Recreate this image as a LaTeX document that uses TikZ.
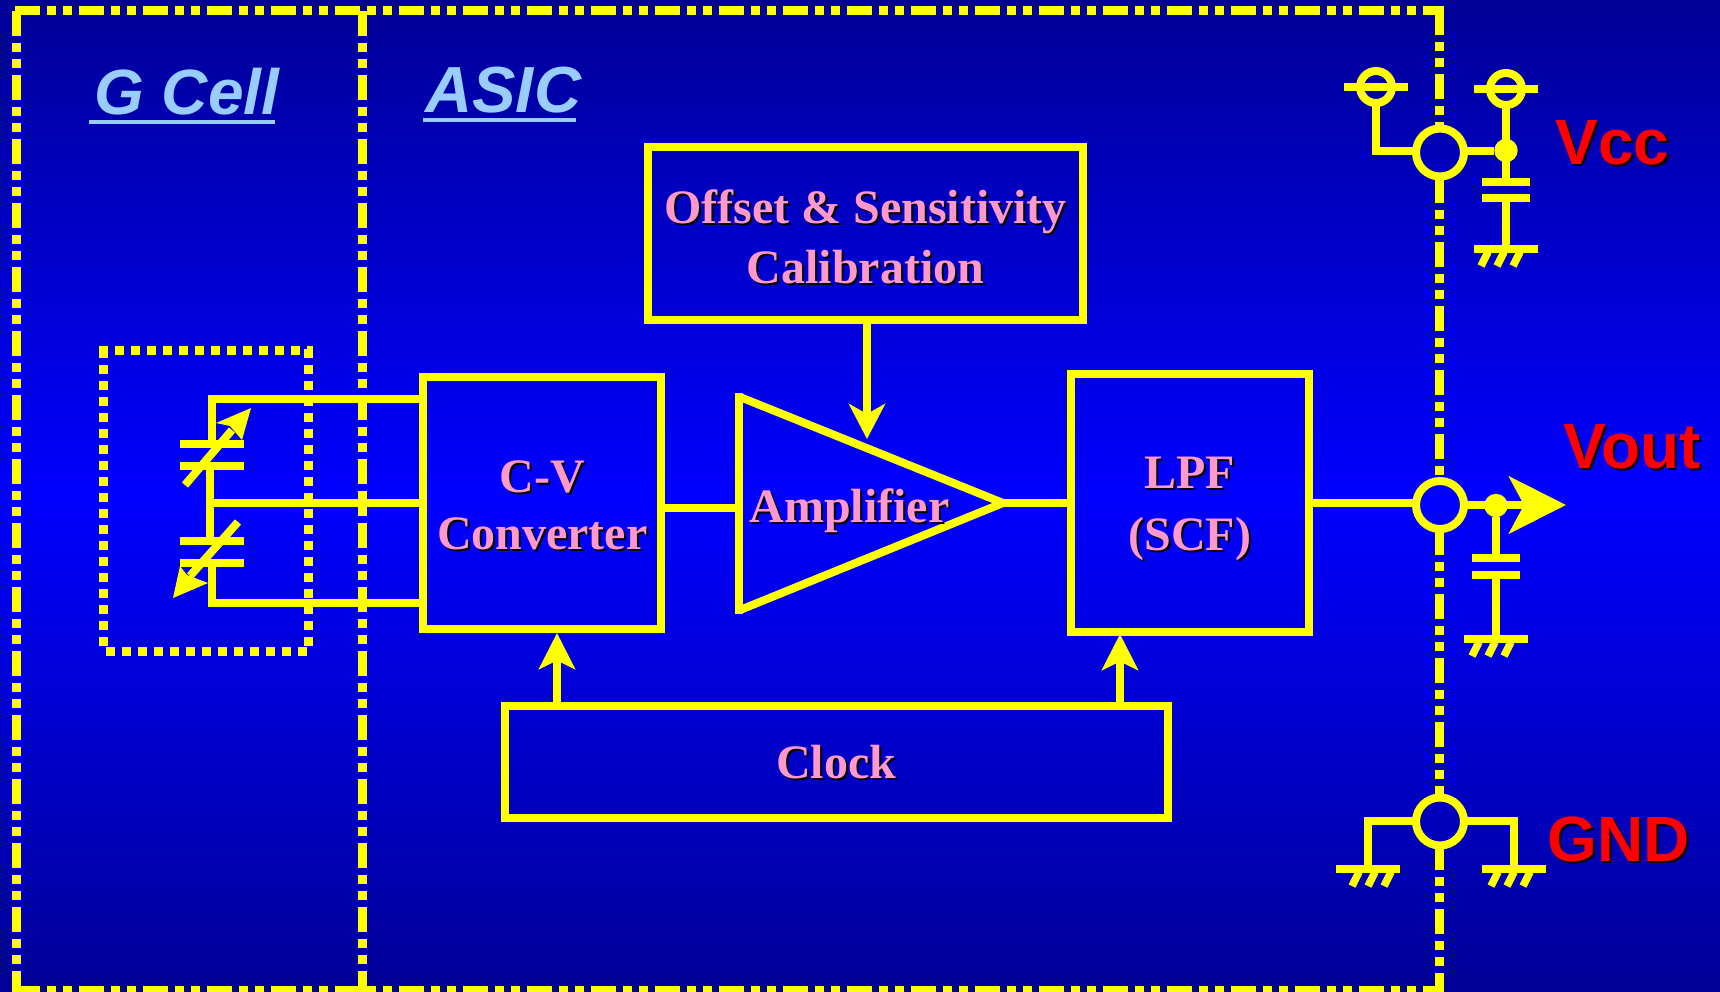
\documentclass[tikz,border=0pt]{standalone}
\usepackage{fontspec}
\setmainfont{Liberation Serif}
\newfontfamily\arialf{Liberation Sans}
\usetikzlibrary{arrows.meta}
\definecolor{bgdark}{RGB}{0,0,150}
\definecolor{bgmid}{RGB}{0,0,255}
\definecolor{ylw}{RGB}{255,255,0}
\definecolor{pinktxt}{RGB}{255,153,204}
\definecolor{bluetxt}{RGB}{153,204,255}
\definecolor{redtxt}{RGB}{255,0,0}
% text with a drop shadow: offset, colour, text
\newcommand{\shadowed}[3]{\makebox[0pt][l]{\kern#1\raisebox{-#1}{\color{black}#3}}{\color{#2}#3}}
% one centred line raised from the node centre
\newcommand{\boxline}[2]{\makebox[0pt]{\raisebox{#1}{\shadowed{1pt}{pinktxt}{#2}}}}
\newcommand{\serifset}{\fontsize{24}{30}\selectfont\bfseries}
\newcommand{\gndsym}[3]{%
  \draw[wire] (#1-32,#2) -- (#1+32,#2);
  \foreach \k in {0,16,32}{\draw[tick] (#1+#3+\k,#2+3) -- (#1+#3+\k-7,#2+17);}
}
\tikzset{
  wire/.style={draw=ylw,line width=4pt},
  tick/.style={draw=ylw,line width=3.8pt},
  dashline/.style={draw=ylw,line width=4.5pt,dash pattern=on 12.5pt off 3.5pt on 4.5pt off 3.5pt on 4.5pt off 3.5pt},
  dotline/.style={draw=ylw,line width=4.5pt,dash pattern=on 4.5pt off 3.5pt},
  blockbox/.style={draw=ylw,line width=4pt,inner sep=0pt,outer sep=0pt,align=center},
  hub/.style={circle,draw=ylw,line width=4pt,minimum size=24pt,inner sep=0pt,outer sep=0pt},
  term/.style={circle,draw=ylw,line width=4pt,minimum size=16pt,inner sep=0pt,outer sep=0pt},
  jdot/.style={circle,fill=ylw,minimum size=11.7pt,inner sep=0pt,outer sep=0pt},
  headA/.style={-{Stealth[length=18pt,width=18pt,inset=4.3pt]}},
  headB/.style={-{Stealth[length=17.5pt,width=18pt,inset=5pt]}},
  headC/.style={-{Stealth[length=28.5pt,width=28.5pt,inset=7.5pt]}},
  sanslabel/.style={anchor=base west,inner sep=0pt,font=\arialf\fontsize{32}{36}\selectfont\bfseries},
  headlabel/.style={anchor=base west,inner sep=0pt,text=bluetxt,font=\arialf\fontsize{32}{36}\selectfont\bfseries\itshape},
  amplabel/.style={anchor=base,inner sep=0pt,font=\serifset},
}
\begin{document}
\begin{tikzpicture}[x=.5pt,y=-.5pt]
\useasboundingbox (0,0) rectangle (1720,991.5);
\shade[top color=bgdark,bottom color=bgdark,middle color=bgmid] (0,0) rectangle (1720,992);

% outer dash-dot frame and divider
\draw[dashline] (15,10.5) -- (1444,10.5);
\draw[dashline] (16.5,11) -- (16.5,992);
\draw[dashline] (362.5,11) -- (362.5,992);
\draw[dashline] (15,990.5) -- (1440,990.5);
\draw[dashline] (1439.5,10) -- (1439.5,125);
\draw[dashline] (1439.5,178) -- (1439.5,477);
\draw[dashline] (1439.5,530) -- (1439.5,795);
\draw[dashline] (1439.5,845) -- (1439.5,992);

% dotted sensor frame
\draw[dotline] (99,350.5) -- (313,350.5);
\draw[dotline] (103.5,349) -- (103.5,647);
\draw[dotline] (308.5,349) -- (308.5,646);
\draw[dotline] (106,651.5) -- (307,651.5);

% headings
\node[headlabel] (gcell) at (94,114) {G Cell};
\node[headlabel,font=\arialf\fontsize{32.6}{36}\selectfont\bfseries\itshape] (asic) at (425,112.5) {ASIC};
\fill[bluetxt] (89,120) rectangle (275,124);
\fill[bluetxt] (423,118) rectangle (576,122);

% blocks
\node[blockbox,minimum width=217.5pt,minimum height=86.5pt] (offset) at (865.5,233.5)
  {\serifset\smash{\boxline{5.2pt}{Offset \& Sensitivity}\boxline{-24.8pt}{Calibration}}};
\node[blockbox,minimum width=119pt,minimum height=126pt] (cv) at (541.7,503)
  {\serifset\smash{\hspace{.6pt}\boxline{5.2pt}{C-V}\boxline{-23.1pt}{Converter}}};
\node[blockbox,minimum width=119pt,minimum height=129pt] (lpf) at (1189.7,503)
  {\serifset\smash{\boxline{7.5pt}{LPF}\boxline{-23.5pt}{(SCF)}}};
\node[blockbox,minimum width=331.25pt,minimum height=56pt] (clock) at (836.25,762)
  {\serifset\smash{\boxline{-8pt}{Clock}}};

% amplifier
\coordinate (ampin) at (739,508);
\coordinate (ampout) at (1003,503);
\draw[wire] (739,393) -- (739,614);
\draw[wire] (740,397) -- (ampout) -- (740,610);
\node[amplabel] (amp) at (849.5,522) {\shadowed{1pt}{pinktxt}{Amplifier}};

% signal connectors
\coordinate (tt) at (212,399);
\coordinate (mt) at (210,503);
\coordinate (bt) at (212,603);
\draw[wire] (212,395) -- (212,444);
\draw[wire] (tt) -- (tt -| cv.west);
\draw[wire] (210,466) -- (210,540);
\draw[wire] (mt) -- (mt -| cv.west);
\draw[wire] (212,562) -- (212,607);
\draw[wire] (bt) -- (bt -| cv.west);
\draw[wire] (ampin -| cv.east) -- (ampin);
\draw[wire] (ampout) -- (ampout -| lpf.west);

% variable capacitors
\draw[wire] (180,444) -- (244,444);
\draw[wire] (180,466) -- (244,466);
\draw[wire] (180,540.5) -- (244,540.5);
\draw[wire] (180,562.5) -- (244,562.5);
\draw[wire] (185,485) -- (232,430);
\fill[ylw] (251,408) -- (216,423) -- (230,426) -- (242,440) -- cycle;
\draw[wire] (238,522) -- (190,576);
\fill[ylw] (173,598) -- (180,566) -- (187,575) -- (208,583) -- cycle;

% arrows
\coordinate (tipamp) at (867,439);
\coordinate (tipcv) at (557,633);
\coordinate (tiplpf) at (1120,634);
\draw[wire,headB] (offset.south -| tipamp) -- (tipamp);
\draw[wire,headA] (clock.north -| tipcv) -- (tipcv);
\draw[wire,headA] (clock.north -| tiplpf) -- (tiplpf);

% Vcc pad
\node[hub] (hubv) at (1440,152.5) {};
\node[term] (tl) at (1376,87) {};
\node[term] (tr) at (1506,89) {};
\node[jdot] (dv) at (1506,150.5) {};
\draw[wire] (1344,87) -- (1408,87);
\draw[wire] (1474,89) -- (1538,89);
\draw[wire] (tl.south) -- (1376,155);
\draw[wire] (1372,151) -- (hubv.west |- 0,151);
\draw[wire] (hubv.east |- dv) -- (dv);
\draw[wire] (tr.south) -- (1506,182);
\draw[wire] (1482,182) -- (1530,182);
\draw[wire] (1482,198) -- (1530,198);
\draw[wire] (1506,198) -- (1506,249);
\gndsym{1506}{249}{-18}

% Vout pad
\node[hub] (hubo) at (1440,505) {};
\coordinate (vtip) at (1566,505);
\node[jdot] (do) at (1496,505.5) {};
\draw[wire] (lpf.east |- 0,503) -- (hubo.west |- 0,503);
\draw[wire,headC] (hubo.east) -- (vtip);
\draw[wire] (do) -- (1496,558);
\draw[wire] (1472,558) -- (1520,558);
\draw[wire] (1472,574.5) -- (1520,574.5);
\draw[wire] (1496,574.5) -- (1496,639);
\gndsym{1496}{639}{-17}

% GND pad
\node[hub] (hubg) at (1440,821.5) {};
\coordinate (gl) at (1368,821);
\coordinate (gr) at (1514,821);
\draw[wire] (hubg.west |- gl) -- (1364,821);
\draw[wire] (gl) -- (1368,869);
\draw[wire] (hubg.east |- gr) -- (1518,821);
\draw[wire] (gr) -- (1514,869);
\gndsym{1368}{869}{-9}
\gndsym{1514}{869}{-16}

% pad labels
\node[sanslabel] (vcc) at (1555,164) {\shadowed{1.2pt}{redtxt}{Vcc}};
\node[sanslabel] (vout) at (1563,468) {\shadowed{1.2pt}{redtxt}{Vout}};
\node[sanslabel] (gnd) at (1547,861.5) {\shadowed{1.2pt}{redtxt}{GND}};
\end{tikzpicture}
\end{document}
